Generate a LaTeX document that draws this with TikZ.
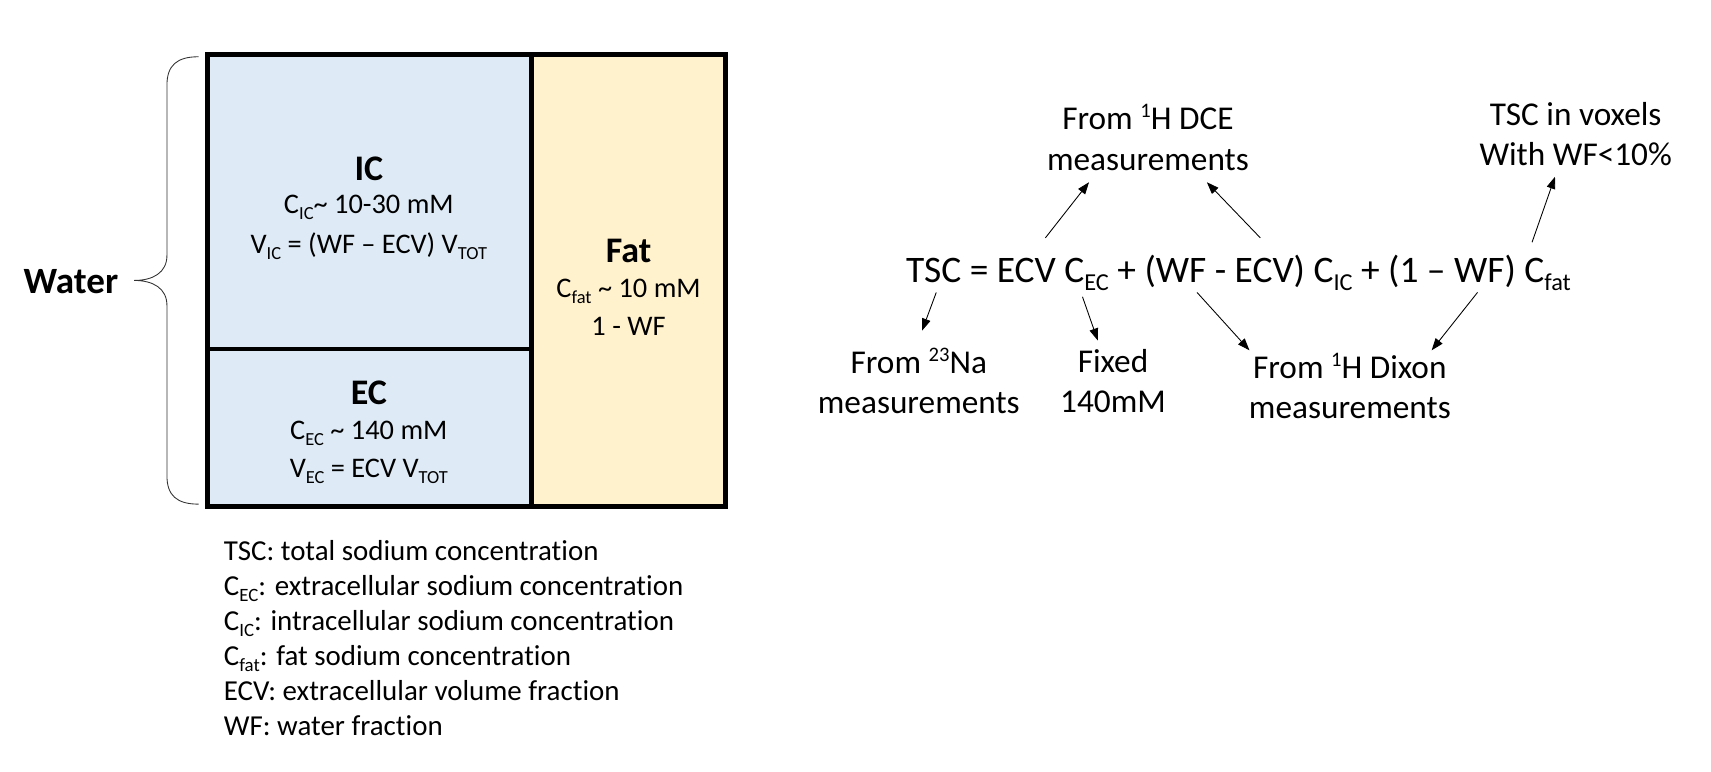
\documentclass[tikz,border=0pt]{standalone}
\usepackage{fontspec}
\setmainfont[Ligatures={NoCommon}]{Carlito}
\usetikzlibrary{arrows.meta}
\definecolor{icblue}{HTML}{DEEBF7}
\definecolor{fatyel}{HTML}{FFF2CC}
\makeatletter
\newcommand\sbx[1]{\raisebox{-0.45ex}{\fontsize{\the\dimexpr 0.65\dimexpr\f@size pt\relax\relax}{0pt}\selectfont #1}}
\newcommand\spx[1]{\raisebox{0.75ex}{\fontsize{\the\dimexpr 0.62\dimexpr\f@size pt\relax\relax}{0pt}\selectfont #1}}
\makeatother
\begin{document}
\begin{tikzpicture}[x=1pt,y=-1pt,
  every node/.style={inner sep=0pt, font=\fontsize{26}{30}\selectfont, align=center},
  head/.style={font=\fontsize{33}{36}\selectfont\bfseries},
  eq/.style={font=\fontsize{34.3}{38}\selectfont},
  lab/.style={font=\fontsize{30.5}{37}\selectfont},
  arr/.style={-{Triangle[length=11pt,width=8pt]}, line width=0.8pt},
  wall/.style={line width=4pt}]
\useasboundingbox (0,0) rectangle (1568,707);
% boxes
\fill[icblue] (190,50) rectangle (487,464);
\fill[fatyel] (487,50) rectangle (665,464);
\draw[wall] (190,320) -- (487,320);
\draw[wall] (487,50) -- (487,464);
\draw[wall] (190,50) rectangle (665,464);
% brace
\draw[line width=0.8pt, black!80]
  (182,52) .. controls (162,52) and (153,60) .. (153,78)
  -- (153,234) .. controls (153,250) and (140,257) .. (123,257)
  .. controls (140,257) and (153,264) .. (153,280)
  -- (153,436) .. controls (153,454) and (162,462) .. (182,462);
\node[head, font=\fontsize{34}{36}\selectfont\bfseries] (water) at (65,258) {Water};
% IC
\node[head] (ic) at (338,155) {IC};
\node (icc) at (338,190) {C\sbx{IC}\textasciitilde{} 10-30 mM};
\node (icv) at (338,226) {V\sbx{IC} = (WF – ECV) V\sbx{TOT}};
% EC
\node[head] (ec) at (338,360) {EC};
\node (ecc) at (338,397) {C\sbx{EC} \textasciitilde{} 140 mM};
\node (ecv) at (338,432) {V\sbx{EC} = ECV V\sbx{TOT}};
% Fat
\node[head] (fat) at (576,230) {Fat};
\node (fatc) at (576,267) {C\sbx{fat} \textasciitilde{} 10 mM};
\node (fatw) at (576,299) {1 - WF};
% legend
\node[anchor=north west, align=left, font=\fontsize{26.5}{32}\selectfont] (legend) at (205,495) {%
TSC: total sodium concentration\\
C\sbx{EC}: extracellular sodium concentration\\
C\sbx{IC}: intracellular sodium concentration\\
C\sbx{fat}: fat sodium concentration\\
ECV: extracellular volume fraction\\
WF: water fraction};
% equation
\node[eq] (eqn) at (1135,250) {TSC = ECV C\sbx{EC} + (WF - ECV) C\sbx{IC} + (1 – WF) C\sbx{fat}};
% labels
\node[lab] (dce) at (1052,126) {From \spx{1}H DCE\\measurements};
\node[lab] (vox) at (1444,123) {TSC in voxels\\With WF<10\%};
\node[lab] (na) at (842,349) {From \spx{23}Na\\measurements};
\node[lab] (fix) at (1020,349) {Fixed\\140mM};
\node[lab] (dix) at (1237,354) {From \spx{1}H Dixon\\measurements};
% arrow coordinates
\coordinate (a1s) at (958,218); \coordinate (a1e) at (998,167);
\coordinate (a2s) at (1155,218); \coordinate (a2e) at (1106,167);
\coordinate (a3s) at (1404,222); \coordinate (a3e) at (1425,162);
\coordinate (a4s) at (858,268); \coordinate (a4e) at (845,303);
\coordinate (a5s) at (992,272); \coordinate (a5e) at (1006,312);
\coordinate (a6s) at (1097,268); \coordinate (a6e) at (1145,321);
\coordinate (a7s) at (1354,268); \coordinate (a7e) at (1312,321);
\draw[arr] (a1s) -- (a1e);
\draw[arr] (a2s) -- (a2e);
\draw[arr] (a3s) -- (a3e);
\draw[arr] (a4s) -- (a4e);
\draw[arr] (a5s) -- (a5e);
\draw[arr] (a6s) -- (a6e);
\draw[arr] (a7s) -- (a7e);
\end{tikzpicture}
\end{document}
